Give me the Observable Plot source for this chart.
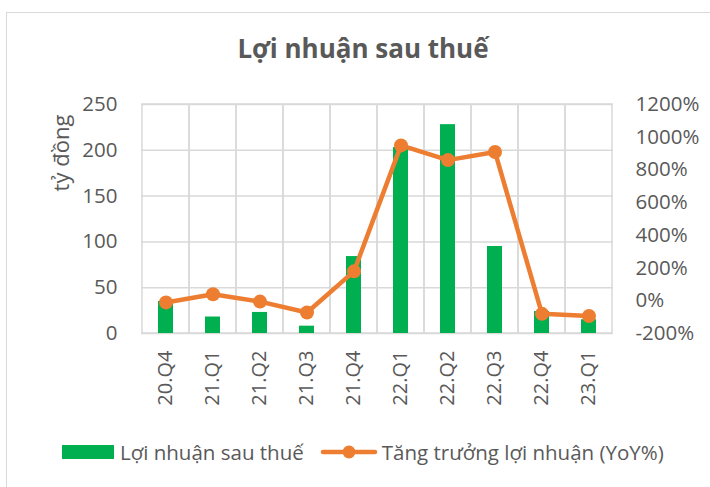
<!DOCTYPE html>
<html>
<head>
<meta charset="utf-8">
<script src="https://cdn.jsdelivr.net/npm/d3@7"></script>
<script src="https://cdn.jsdelivr.net/npm/@observablehq/plot@0.6"></script>
<style>
  html, body { margin: 0; padding: 0; background: #fff; }
  body { width: 710px; height: 487px; position: relative; overflow: hidden; font-family: "Open Sans", sans-serif; color: #595959; }
  #frame { position: absolute; left: 6px; top: 12px; width: 720px; height: 500px; border-left: 1.5px solid #d9d9d9; border-top: 1.5px solid #d9d9d9; }
  #title { position: absolute; left: 0; width: 726px; top: 33px; text-align: center; font-size: 26px; font-weight: 700; color: #595959; line-height: 30px; }
  #ylabel { position: absolute; left: 60px; top: 153px; transform: translate(-50%, -50%) rotate(-90deg); font-size: 22px; white-space: nowrap; }
  #chart { position: absolute; left: 0; top: 0; }
  #legend { position: absolute; top: 438px; left: 62px; font-size: 20.5px; display: flex; align-items: center; white-space: nowrap; line-height: 28px; }
  .sw-bar { display: inline-block; width: 52px; height: 14px; background: #00B050; margin-right: 6px; }
  .sw-line { display: inline-block; margin-left: 16px; margin-right: 4px; }
</style>
</head>
<body>
<div id="frame"></div>
<div id="title">Lợi nhuận sau thuế</div>
<div id="ylabel">tỷ đồng</div>
<div id="chart"></div>
<div id="legend">
  <span class="sw-bar"></span><span>Lợi nhuận sau thuế</span>
  <svg class="sw-line" width="58" height="16"><line x1="3" y1="8" x2="55" y2="8" stroke="#ED7D31" stroke-width="4.5" stroke-linecap="round"/><circle cx="29" cy="8" r="6.5" fill="#ED7D31"/></svg><span>Tăng trưởng lợi nhuận (YoY%)</span>
</div>
<script>
const categories = ["20.Q4","21.Q1","21.Q2","21.Q3","21.Q4","22.Q1","22.Q2","22.Q3","22.Q4","23.Q1"];
const profit = [35, 18, 23, 8, 84, 203, 228, 95, 24, 15];
const growthPct = [-10, 40, -5, -72, 180, 950, 860, 910, -80, -93];
const leftTicks = [0, 50, 100, 150, 200, 250];
const rightTicks = [-200, 0, 200, 400, 600, 800, 1000, 1200];

const leftMax = 250, rightMin = -200, rightMax = 1200;
const toLeft = p => (p - rightMin) * leftMax / (rightMax - rightMin);
const fromLeft = v => v * (rightMax - rightMin) / leftMax + rightMin;

const data = categories.map((c, i) => ({cat: c, profit: profit[i], pct: growthPct[i]}));

const grid = "#d9d9d9";
const textColor = "#595959";

const chart = Plot.plot({
  width: 710,
  height: 420,
  marginTop: 104,
  marginBottom: 87,
  marginLeft: 141,
  marginRight: 97,
  style: {fontFamily: "'Open Sans', sans-serif", fontSize: "20px", color: textColor, background: "transparent"},
  x: {type: "band", domain: categories, padding: 0},
  y: {domain: [0, leftMax]},
  marks: [
    Plot.gridY(leftTicks, {stroke: grid, strokeOpacity: 1, strokeWidth: 1.5}),
    Plot.cell(categories, {x: d => d, fill: "none", stroke: grid, strokeWidth: 1.5, inset: 0}),
    Plot.barY(data, {x: "cat", y: "profit", fill: "#00B050", insetLeft: 16, insetRight: 16}),
    Plot.line(data, {x: "cat", y: d => toLeft(d.pct), stroke: "#ED7D31", strokeWidth: 4.5, strokeLinejoin: "round"}),
    Plot.dot(data, {x: "cat", y: d => toLeft(d.pct), r: 7, fill: "#ED7D31", stroke: "none"}),
    Plot.axisY(leftTicks, {anchor: "left", tickSize: 0, tickPadding: 24, label: null, fill: textColor, fontSize: 20.5}),
    Plot.axisY(rightTicks.map(toLeft), {anchor: "right", tickSize: 0, tickPadding: 22, label: null, fill: textColor, fontSize: 20.5,
      tickFormat: v => Math.round(fromLeft(v)) + "%"}),
    Plot.axisX({tickRotate: -90, tickSize: 0, tickPadding: 17, label: null, fill: textColor, fontSize: 20})
  ]
});
document.getElementById("chart").appendChild(chart);
</script>
</body>
</html>
